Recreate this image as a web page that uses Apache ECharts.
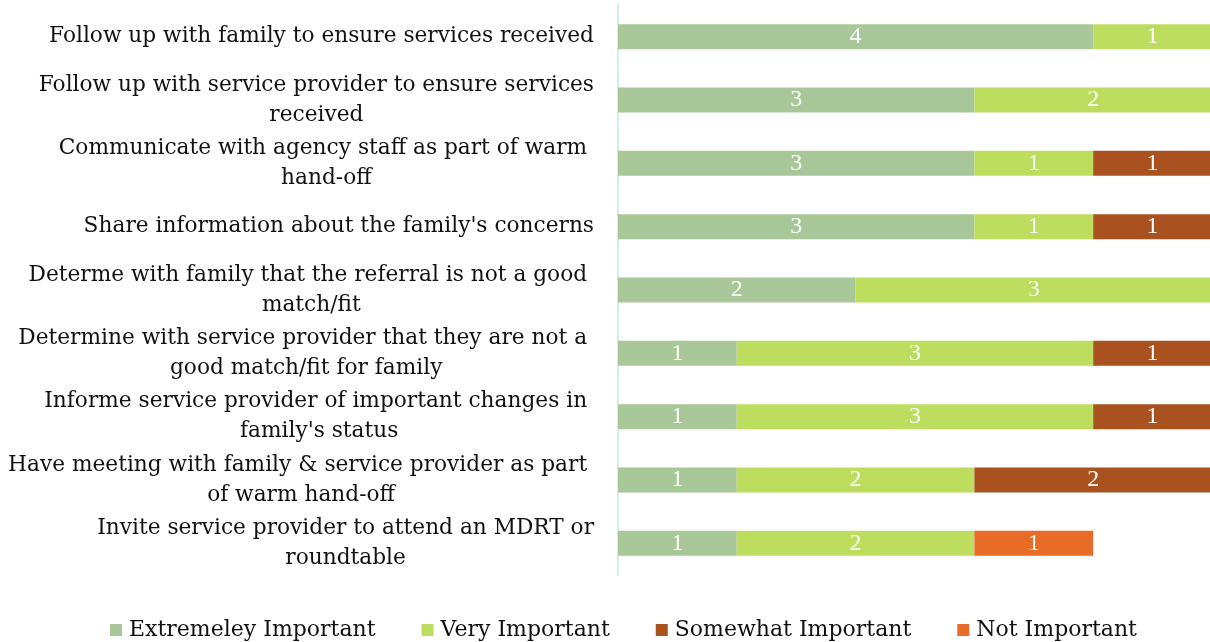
<!DOCTYPE html>
<html>
<head>
<meta charset="utf-8">
<script src="https://cdn.jsdelivr.net/npm/echarts@6/dist/echarts.min.js"></script>
<style>html,body{margin:0;padding:0;background:#fff;}#chart{width:1210px;height:642px;}</style>
</head>
<body>
<div id="chart"></div>
<script>
const categories = [
  "Follow up with family to ensure services received",
  "Follow up with service provider to ensure services\nreceived",
  "Communicate with agency staff as part of warm \nhand-off",
  "Share information about the family's concerns",
  "Determe with family that the referral is not a good \nmatch/fit",
  "Determine with service provider that they are not a \ngood match/fit for family",
  "Informe service provider of important changes in \nfamily's status",
  "Have meeting with family & service provider as part \nof warm hand-off",
  "Invite service provider to attend an MDRT or\nroundtable"
];
const seriesNames = ["Extremeley Important", "Very Important", "Somewhat Important", "Not Important"];
const extremely = [4, 3, 3, 3, 2, 1, 1, 1, 1];
const very      = [1, 2, 1, 1, 3, 3, 3, 2, 2];
const somewhat  = [0, 0, 1, 1, 0, 1, 1, 2, 0];
const notImp    = [0, 0, 0, 0, 0, 0, 0, 0, 1];
const colors = ["#A8C899", "#BDDD5F", "#A9521F", "#E86B27"];
const FONT = "DejaVu Serif";

const values = [extremely, very, somewhat, notImp];
const chart = echarts.init(document.getElementById('chart'));
chart.setOption({
  animation: false,
  color: colors,
  grid: { left: 618, right: -2, top: 5, bottom: 67, containLabel: false, outerBoundsMode: 'none' },
  xAxis: {
    type: 'value', min: 0, max: 5, interval: 1,
    show: false
  },
  yAxis: {
    type: 'category', data: categories, inverse: true,
    axisLine: { show: true, lineStyle: { color: '#D3EEE7', width: 2 } },
    axisTick: { show: false },
    axisLabel: {
      margin: 24, align: 'right',
      fontFamily: FONT, fontSize: 21.7, color: '#111', lineHeight: 30,
      formatter: v => v.split('\n').map(s => '{c|' + s + '}').join('\n'),
      rich: { c: { align: 'center', fontFamily: FONT, fontSize: 21.7, color: '#111', lineHeight: 30 } }
    }
  },
  legend: {
    data: seriesNames, left: 105, top: 614,
    itemWidth: 12, itemHeight: 12, itemGap: 46, icon: 'rect',
    textStyle: { fontFamily: FONT, fontSize: 22, color: '#111', padding: [0, 0, 0, 2] }
  },
  series: seriesNames.map((n, i) => ({
    name: n, type: 'bar', stack: 'total', barWidth: 25,
    data: values[i].map(v => v === 0 ? null : v),
    itemStyle: { color: colors[i], borderColor: '#fff', borderWidth: 0 },
    label: {
      show: true, position: 'inside', color: '#fff',
      fontFamily: "Liberation Serif", fontSize: 24
    }
  }))
});
</script>
</body>
</html>
